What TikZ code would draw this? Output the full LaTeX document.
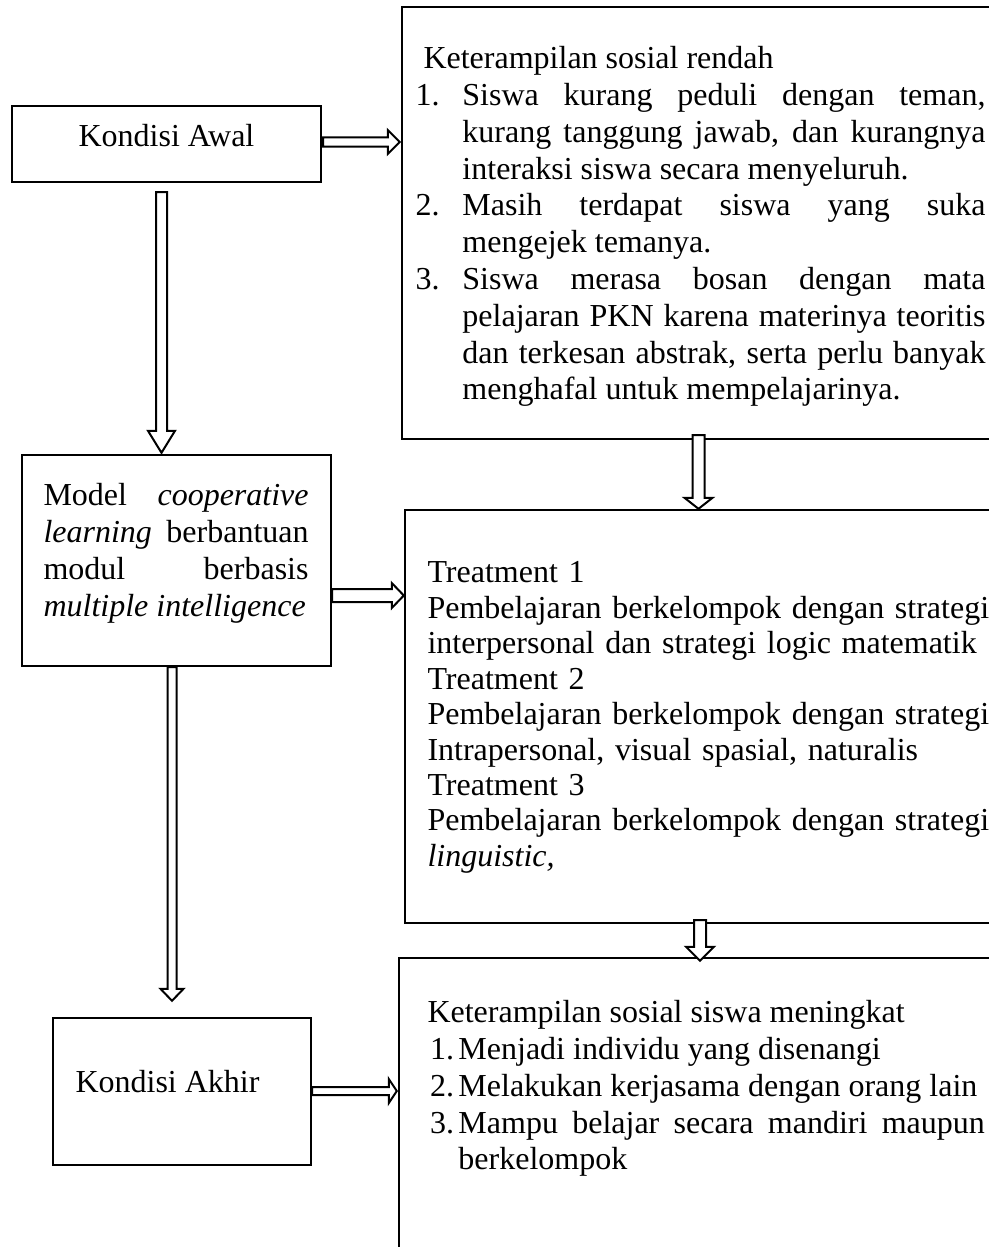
\documentclass[tikz,border=0pt]{standalone}
\usepackage{fontspec}
\setmainfont{Liberation Serif}
\usetikzlibrary{calc,fit}
\tikzset{
  box/.style={draw, line width=0.9pt, inner sep=0pt},
  txt/.style={inner sep=0pt, anchor=north west, font=\fontsize{12pt}{13.8pt}\selectfont},
  blockarrow/.style={draw, fill=white, line width=0.75pt, line join=miter},
}
% horizontal block arrow: #1 start, #2 tip (x only), #3 shaft half, #4 head half, #5 head length (px)
\newcommand\hblock[5]{%
  \path let \p1=#1, \p2=#2 in coordinate (hs) at (\x1,\y1) coordinate (ht) at (\x2,\y1);
  \draw[blockarrow] ($(hs)+(0,-#3)$) -- ($(ht)+(-#5,-#3)$) -- ($(ht)+(-#5,-#4)$) -- (ht)
    -- ($(ht)+(-#5,#4)$) -- ($(ht)+(-#5,#3)$) -- ($(hs)+(0,#3)$) -- cycle;}
% vertical block arrow: #1 start, #2 tip (y only)
\newcommand\vblock[5]{%
  \path let \p1=#1, \p2=#2 in coordinate (vs) at (\x1,\y1) coordinate (vt) at (\x1,\y2);
  \draw[blockarrow] ($(vs)+(-#3,0)$) -- ($(vt)+(-#3,-#5)$) -- ($(vt)+(-#4,-#5)$) -- (vt)
    -- ($(vt)+(#4,-#5)$) -- ($(vt)+(#3,-#5)$) -- ($(vs)+(#3,0)$) -- cycle;}
\newcommand\itm[2]{\par\noindent\hangindent=#1\hangafter=1\makebox[#1][l]{#2}}
\begin{document}
\begin{tikzpicture}[x=0.375pt,y=-0.375pt]
\useasboundingbox (0,0) rectangle (989,1247);
\clip (0,0) rectangle (989,1247);
\tolerance=10000 \hyphenpenalty=10000

% boxes
\node[box, fit={(12,106) (321,182)}] (A) {};
\node[box, fit={(402,7) (995,439)}] (B) {};
\node[box, fit={(22,455) (331,666)}] (M) {};
\node[box, fit={(405,510) (995,923)}] (T) {};
\node[box, fit={(53,1018) (311,1165)}] (K) {};
\node[box, fit={(399,958) (995,1260)}] (F) {};

% texts
\node[inner sep=0pt, anchor=base, font=\fontsize{12pt}{13.8pt}\selectfont] (tA) at (166.5,146.7) {Kondisi Awal};
\node[inner sep=0pt, anchor=base west, font=\fontsize{12pt}{13.8pt}\selectfont] (tK) at (75,1092) {Kondisi Akhir};

\node[txt, text width=213.75pt, align=justify] (tB) at (415,46) {%
\hspace*{3pt}Keterampilan sosial rendah
\itm{17.6pt}{1.}Siswa kurang peduli dengan teman,\linebreak kurang tanggung jawab, dan kurangnya\linebreak interaksi siswa secara menyeluruh.
\itm{17.6pt}{2.}Masih terdapat siswa yang suka\linebreak mengejek temanya.
\itm{17.6pt}{3.}Siswa merasa bosan dengan mata\linebreak pelajaran PKN karena materinya teoritis\linebreak dan terkesan abstrak, serta perlu banyak\linebreak menghafal untuk mempelajarinya.\par};

\node[txt, text width=99.4pt, align=justify] (tM) at (43,483) {%
Model \textit{cooperative}\linebreak \textit{learning} berbantuan\linebreak modul berbasis\linebreak \textit{multiple intelligence}\par};

\node[txt, text width=212pt, align=left, font=\fontsize{12pt}{13.3pt}\selectfont] (tT) at (427,561) {%
Treatment 1\\
Pembelajaran berkelompok dengan strategi\\
interpersonal dan strategi logic matematik\\
Treatment 2\\
Pembelajaran berkelompok dengan strategi\\
Intrapersonal, visual spasial, naturalis\\
Treatment 3\\
Pembelajaran berkelompok dengan strategi\\
\textit{linguistic,}};

\node[txt, text width=209pt, align=justify] (tF) at (427,1000) {%
Keterampilan sosial siswa meningkat
\itm{11.6pt}{\hspace*{1pt}1.}Menjadi individu yang disenangi
\itm{11.6pt}{\hspace*{1pt}2.}Melakukan kerjasama dengan orang lain
\itm{11.6pt}{\hspace*{1pt}3.}Mampu belajar secara mandiri maupun\linebreak berkelompok\par};

% connectors
\hblock{($(A.east)+(1,-2)$)}{($(B.west)+(-1,0)$)}{4.7}{12}{12}
\vblock{($(A.south)+(-5,9)$)}{($(M.north)+(0,-1)$)}{5.5}{13.5}{22}
\vblock{($(B.south)+(0,-5)$)}{(T.north)}{6}{14}{11}
\hblock{($(M.east)+(0,35)$)}{(T.west)}{6.5}{12.5}{12}
\vblock{($(M.south)+(-4.5,0)$)}{($(K.north)+(0,-16)$)}{4.5}{11.5}{12}
\vblock{($(T.south)+(0,-4)$)}{($(F.north)+(0,4)$)}{6}{14}{14}
\hblock{($(K.east)+(0,-0.5)$)}{($(F.west)+(-1,0)$)}{4}{12}{8}
\end{tikzpicture}
\end{document}
